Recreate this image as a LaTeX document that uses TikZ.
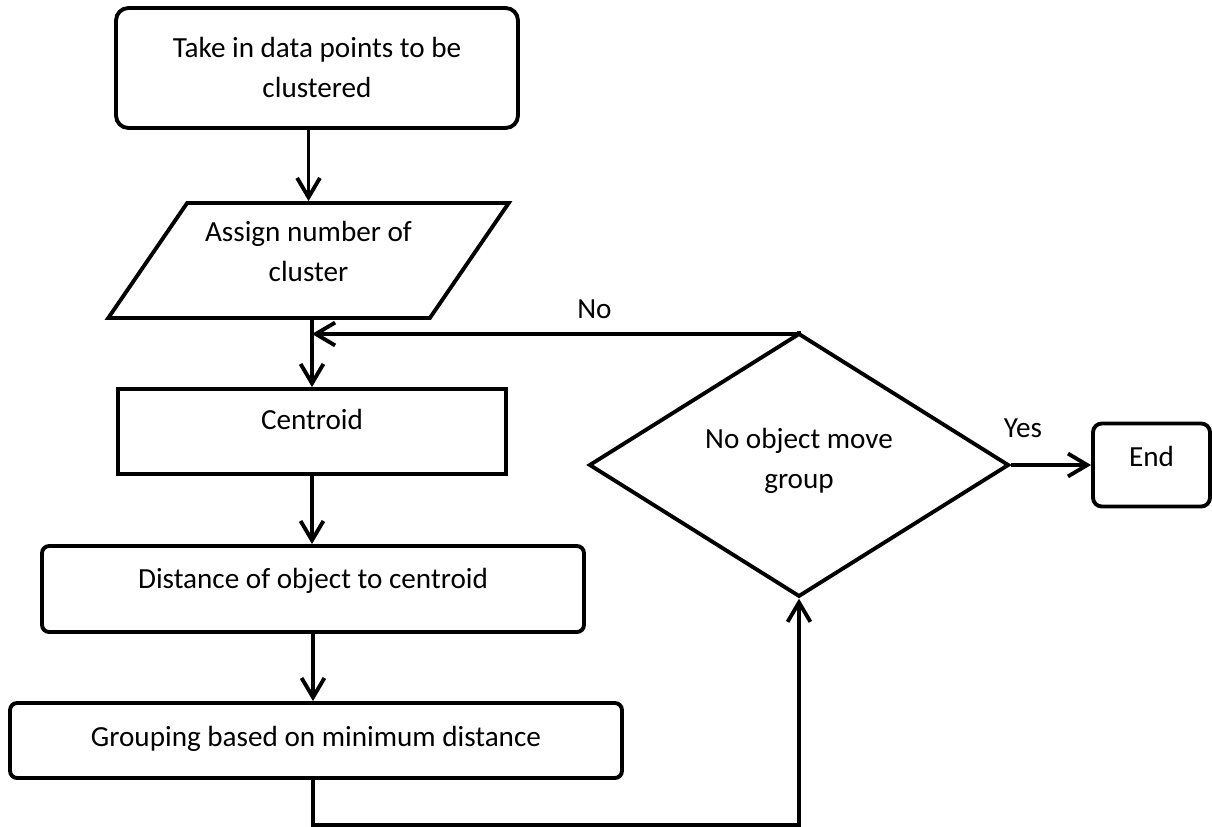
\documentclass[tikz,border=0pt]{standalone}
\usepackage{fontspec}
\setmainfont{Carlito}
\usetikzlibrary{shapes.geometric,arrows.meta}

\begin{document}
\begin{tikzpicture}[x=0.02cm,y=-0.02cm]%
  \tikzstyle{every node}=[font=\fontsize{16.6}{23}\selectfont]
  \tikzstyle{boxr}=[rectangle,draw,line width=2.2pt,rounded corners=4pt,align=center,text height=12pt,inner sep=2pt]
  \tikzstyle{boxs}=[rectangle,draw,line width=2.2pt,align=center,text height=12pt,inner sep=2pt]
  \tikzstyle{parn}=[trapezium,trapezium left angle=50,trapezium right angle=130,trapezium stretches=true,draw,line width=2.2pt,align=center,text height=35pt,inner sep=0pt]
  \tikzstyle{diamn}=[diamond,draw,line width=2.2pt,align=center,text height=35pt,inner sep=0pt]
  \tikzstyle{arr}=[line width=2.2pt,-{Straight Barb[length=11pt,width=13pt]}]
  \useasboundingbox (0,0) rectangle (1212,827);
  \node(take)[boxr,rounded corners=7pt,minimum width=8.04cm,minimum height=2.4cm,text height=35pt,text depth=1.4pt] at (317,68) {Take in data points to be\\clustered};
  \node(assign)[parn,minimum width=8.02cm,minimum height=2.3cm,text depth=10.6pt] at (308.5,260.5) {Assign number of\\cluster};
  \node(centroid)[boxs,minimum width=7.76cm,minimum height=1.7cm,text depth=14pt] at (312,431.5) {Centroid};
  \node(dist)[boxr,minimum width=10.84cm,minimum height=1.72cm,text depth=12.8pt] at (313,589) {Distance of object to centroid};
  \node(group)[boxr,minimum width=12.24cm,minimum height=1.5cm,text depth=4.8pt] at (316,740.5) {Grouping based on minimum distance};
  \node(decide)[diamn,minimum width=8.4cm,minimum height=4.12cm,text depth=8.2pt] at (799,465) {No object move\\group};
  \node(end)[boxr,rounded corners=5pt,minimum width=2.34cm,minimum height=1.66cm,text depth=10.6pt] at (1151.5,465) {End};
  \coordinate(merge) at (312,334);
  \coordinate(low) at (313,825);
  \draw[arr] (assign.north |- take.south) -- (assign.north);
  \draw[arr] (centroid.north |- assign.south) -- (centroid.north);
  \draw[arr] (decide.north) |- node[pos=0.71,yshift=14pt]{No} (merge);
  \draw[arr] (centroid.south) -- (centroid.south |- dist.north);
  \draw[arr] (dist.south) -- (dist.south |- group.north);
  \draw[arr] (dist.south |- group.south) -- (low) -| (decide.south);
  \draw[arr] (decide.east) -- node[pos=0.15,yshift=21pt]{Yes} (end.west);
\end{tikzpicture}
\end{document}
